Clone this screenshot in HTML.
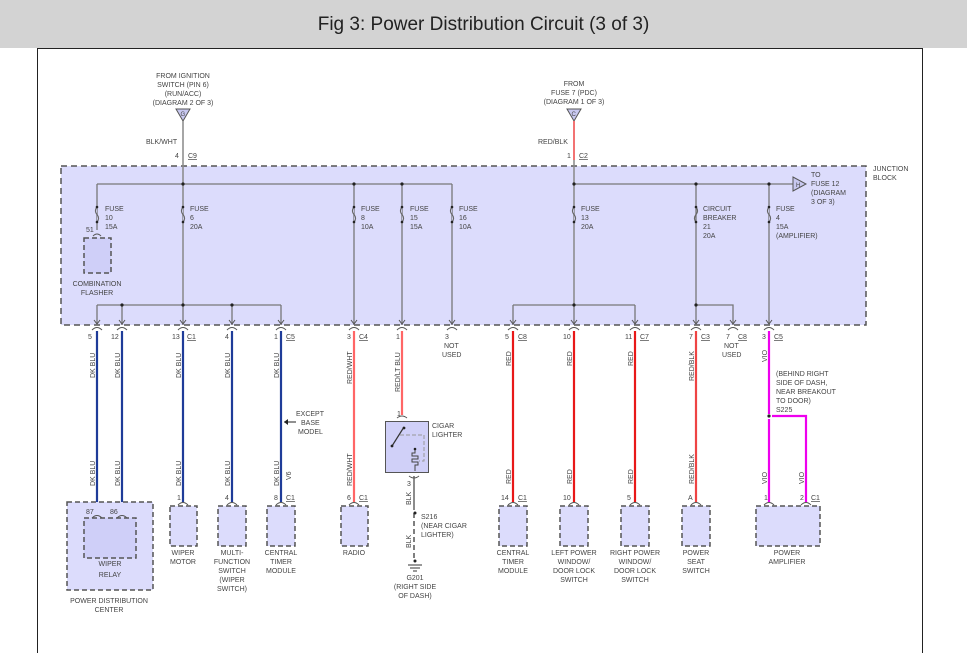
<!DOCTYPE html>
<html><head><meta charset="utf-8"><style>
html,body{margin:0;padding:0;background:#fff;width:967px;height:653px;overflow:hidden}
.hdr{position:absolute;left:0;top:0;width:967px;height:48px;background:#d3d3d3;text-align:center;font:19px "Liberation Sans",sans-serif;line-height:50px;color:#222}
svg{position:absolute;left:0;top:0}
text{font-family:"Liberation Sans",sans-serif;font-size:7px;fill:#444}
.b{fill:#dcdcfc;stroke:#555;stroke-width:1.5;stroke-dasharray:5,3}
</style></head><body>
<div class="hdr">Fig 3: Power Distribution Circuit (3 of 3)</div>
<svg width="967" height="653" viewBox="0 0 967 653">
<rect x="37.5" y="48.5" width="885" height="620" fill="none" stroke="#222" stroke-width="1"/>
<rect x="61" y="166" width="805" height="159" fill="#dcdcfc" stroke="#555" stroke-width="1.5" stroke-dasharray="6,4"/>
<text x="873" y="171">JUNCTION</text><text x="873" y="180">BLOCK</text>
<g text-anchor="middle">
<text x="183" y="78">FROM IGNITION</text><text x="183" y="87">SWITCH (PIN 6)</text><text x="183" y="96">(RUN/ACC)</text><text x="183" y="105">(DIAGRAM 2 OF 3)</text>
<text x="574" y="86">FROM</text><text x="574" y="95">FUSE 7 (PDC)</text><text x="574" y="104">(DIAGRAM 1 OF 3)</text>
</g>
<polygon points="176,109 190,109 183,121" fill="#c8c8f0" stroke="#555"/><text x="180.5" y="116" style="font-size:6px">G</text>
<polygon points="567,109 581,109 574,121" fill="#c8c8f0" stroke="#555"/><text x="571.5" y="116" style="font-size:6px">C</text>
<line x1="183" y1="121" x2="183" y2="305" stroke="#888" stroke-width="1.5"/>
<line x1="574" y1="121" x2="574" y2="160" stroke="#e44" stroke-width="1.5"/>
<line x1="574" y1="160" x2="574" y2="305" stroke="#888" stroke-width="1.5"/>
<text x="146" y="144">BLK/WHT</text><text x="538" y="144">RED/BLK</text>
<text x="175" y="158">4</text><text x="188" y="158" text-decoration="underline">C9</text>
<text x="567" y="158">1</text><text x="579" y="158" text-decoration="underline">C2</text>
<g stroke="#777" stroke-width="1.3" fill="none">
<path d="M97 184H452M97 184V230M354 184V325M402 184V325M452 184V325"/>
<path d="M574 184H793M696 184V305M769 184V325"/>
<path d="M97 305H281M97 305V325M122 305V325M183 305V325M232 305V325M281 305V325"/>
<path d="M513 305H635M513 305V325M574 305V325M635 305V325M696 305V325M696 305H733V325"/>
</g>
<polygon points="793,177 793,191 806,184" fill="#c8c8f0" stroke="#555"/><text x="796" y="187" style="font-size:6px">H</text>
<text x="811" y="177">TO</text><text x="811" y="186">FUSE 12</text><text x="811" y="195">(DIAGRAM</text><text x="811" y="204">3 OF 3)</text>
<g fill="#222"><circle cx="183" cy="184" r="1.6"/><circle cx="354" cy="184" r="1.6"/><circle cx="402" cy="184" r="1.6"/><circle cx="574" cy="184" r="1.6"/><circle cx="696" cy="184" r="1.6"/><circle cx="769" cy="184" r="1.6"/>
<circle cx="122" cy="305" r="1.6"/><circle cx="183" cy="305" r="1.6"/><circle cx="232" cy="305" r="1.6"/><circle cx="574" cy="305" r="1.6"/><circle cx="696" cy="305" r="1.6"/>
</g>
<g fill="#dcdcfc" stroke="#666" stroke-width="1.2">
<path d="M97 207q-3 4 0 7.5q3 4 0 7.5"/><path d="M183 207q-3 4 0 7.5q3 4 0 7.5"/><path d="M354 207q-3 4 0 7.5q3 4 0 7.5"/><path d="M402 207q-3 4 0 7.5q3 4 0 7.5"/><path d="M452 207q-3 4 0 7.5q3 4 0 7.5"/><path d="M574 207q-3 4 0 7.5q3 4 0 7.5"/><path d="M696 207q3 4 0 7.5q-3 4 0 7.5" fill="none"/><path d="M769 207q-3 4 0 7.5q3 4 0 7.5"/>
</g>
<g fill="#222"><circle cx="97" cy="207" r="1.3"/><circle cx="97" cy="222" r="1.3"/><circle cx="183" cy="207" r="1.3"/><circle cx="183" cy="222" r="1.3"/><circle cx="354" cy="207" r="1.3"/><circle cx="354" cy="222" r="1.3"/><circle cx="402" cy="207" r="1.3"/><circle cx="402" cy="222" r="1.3"/><circle cx="452" cy="207" r="1.3"/><circle cx="452" cy="222" r="1.3"/><circle cx="574" cy="207" r="1.3"/><circle cx="574" cy="222" r="1.3"/><circle cx="696" cy="207" r="1.3"/><circle cx="696" cy="222" r="1.3"/><circle cx="769" cy="207" r="1.3"/><circle cx="769" cy="222" r="1.3"/></g>
<text x="105" y="211">FUSE</text><text x="105" y="220">10</text><text x="105" y="229">15A</text>
<text x="190" y="211">FUSE</text><text x="190" y="220">6</text><text x="190" y="229">20A</text>
<text x="361" y="211">FUSE</text><text x="361" y="220">8</text><text x="361" y="229">10A</text>
<text x="410" y="211">FUSE</text><text x="410" y="220">15</text><text x="410" y="229">15A</text>
<text x="459" y="211">FUSE</text><text x="459" y="220">16</text><text x="459" y="229">10A</text>
<text x="581" y="211">FUSE</text><text x="581" y="220">13</text><text x="581" y="229">20A</text>
<text x="703" y="211">CIRCUIT</text><text x="703" y="220">BREAKER</text><text x="703" y="229">21</text><text x="703" y="238">20A</text>
<text x="776" y="211">FUSE</text><text x="776" y="220">4</text><text x="776" y="229">15A</text><text x="776" y="238">(AMPLIFIER)</text>
<text x="86" y="232">51</text>
<path d="M93 236q4-4 8 0" fill="none" stroke="#555"/>
<rect x="84" y="238" width="27" height="35" fill="#cfcff8" stroke="#555" stroke-width="1.5" stroke-dasharray="5,3"/>
<text x="97" y="286" text-anchor="middle">COMBINATION</text><text x="97" y="295" text-anchor="middle">FLASHER</text>
<g fill="none" stroke="#555" stroke-width="1">
<path d="M92 330q5-5 10 0M117 330q5-5 10 0M178 330q5-5 10 0M227 330q5-5 10 0M276 330q5-5 10 0M349 330q5-5 10 0M397 330q5-5 10 0M447 330q5-5 10 0M508 330q5-5 10 0M569 330q5-5 10 0M630 330q5-5 10 0M691 330q5-5 10 0M728 330q5-5 10 0M764 330q5-5 10 0"/>
<path d="M94 320l3 4 3-4M119 320l3 4 3-4M180 320l3 4 3-4M229 320l3 4 3-4M278 320l3 4 3-4M351 320l3 4 3-4M399 320l3 4 3-4M449 320l3 4 3-4M510 320l3 4 3-4M571 320l3 4 3-4M632 320l3 4 3-4M693 320l3 4 3-4M730 320l3 4 3-4M766 320l3 4 3-4"/>
</g>
<text x="88" y="339">5</text><text x="111" y="339">12</text><text x="172" y="339">13</text><text x="187" y="339" text-decoration="underline">C1</text><text x="225" y="339">4</text><text x="274" y="339">1</text><text x="286" y="339" text-decoration="underline">C5</text>
<text x="347" y="339">3</text><text x="359" y="339" text-decoration="underline">C4</text><text x="396" y="339">1</text>
<text x="445" y="339">3</text><text x="444" y="348">NOT</text><text x="442" y="357">USED</text>
<text x="505" y="339">5</text><text x="518" y="339" text-decoration="underline">C8</text><text x="563" y="339">10</text><text x="625" y="339">11</text><text x="640" y="339" text-decoration="underline">C7</text>
<text x="689" y="339">7</text><text x="701" y="339" text-decoration="underline">C3</text><text x="726" y="339">7</text><text x="738" y="339" text-decoration="underline">C8</text>
<text x="724" y="348">NOT</text><text x="722" y="357">USED</text>
<text x="762" y="339">3</text><text x="774" y="339" text-decoration="underline">C5</text>
<g stroke-width="2.2" fill="none">
<path d="M97 331V518M122 331V518M183 331V502M232 331V502M281 331V502" stroke="#1f3c99"/>
<path d="M354 331V502M402 331V415" stroke="#f66"/>
<path d="M513 331V502M574 331V502M635 331V502" stroke="#e81818"/>
<path d="M696 331V502" stroke="#e44"/>
<path d="M769 331V414M769 419V502M772 416H806V502" stroke="#e0e"/>
</g>
<circle cx="769" cy="416" r="1.6" fill="#222"/>
<path d="M414 476V510" stroke="#666" stroke-width="1.5"/>
<path d="M414 513V560" stroke="#555" stroke-width="1.5" stroke-dasharray="5,3"/>
<circle cx="415" cy="513" r="1.5" fill="#222"/>
<g transform="translate(95,378) rotate(-90)"><text>DK BLU</text></g><g transform="translate(120,378) rotate(-90)"><text>DK BLU</text></g>
<g transform="translate(181,378) rotate(-90)"><text>DK BLU</text></g><g transform="translate(230,378) rotate(-90)"><text>DK BLU</text></g><g transform="translate(279,378) rotate(-90)"><text>DK BLU</text></g>
<g transform="translate(95,486) rotate(-90)"><text>DK BLU</text></g><g transform="translate(120,486) rotate(-90)"><text>DK BLU</text></g>
<g transform="translate(181,486) rotate(-90)"><text>DK BLU</text></g><g transform="translate(230,486) rotate(-90)"><text>DK BLU</text></g><g transform="translate(279,486) rotate(-90)"><text>DK BLU</text></g>
<g transform="translate(291,480) rotate(-90)"><text>V6</text></g>
<g transform="translate(352,384) rotate(-90)"><text>RED/WHT</text></g><g transform="translate(352,486) rotate(-90)"><text>RED/WHT</text></g>
<g transform="translate(400,392) rotate(-90)"><text>RED/LT BLU</text></g>
<g transform="translate(411,505) rotate(-90)"><text>BLK</text></g><g transform="translate(411,548) rotate(-90)"><text>BLK</text></g>
<g transform="translate(511,366) rotate(-90)"><text>RED</text></g><g transform="translate(572,366) rotate(-90)"><text>RED</text></g><g transform="translate(633,366) rotate(-90)"><text>RED</text></g>
<g transform="translate(511,484) rotate(-90)"><text>RED</text></g><g transform="translate(572,484) rotate(-90)"><text>RED</text></g><g transform="translate(633,484) rotate(-90)"><text>RED</text></g>
<g transform="translate(694,381) rotate(-90)"><text>RED/BLK</text></g><g transform="translate(694,484) rotate(-90)"><text>RED/BLK</text></g>
<g transform="translate(767,362) rotate(-90)"><text>VIO</text></g><g transform="translate(767,484) rotate(-90)"><text>VIO</text></g><g transform="translate(804,484) rotate(-90)"><text>VIO</text></g>
<text x="296" y="416">EXCEPT</text><text x="301" y="425">BASE</text><text x="298" y="434">MODEL</text>
<path d="M296 422H284" stroke="#222"/><path d="M288 419l-4 3 4 3" fill="#222"/>
<text x="776" y="376">(BEHIND RIGHT</text><text x="776" y="385">SIDE OF DASH,</text><text x="776" y="394">NEAR BREAKOUT</text><text x="776" y="403">TO DOOR)</text><text x="776" y="412">S225</text>
<text x="397" y="416">1</text>
<rect x="385.5" y="421.5" width="43" height="51" fill="#d0d0f8" stroke="#555"/>
<path d="M397 418q5-4 10 0" fill="none" stroke="#555"/>
<path d="M392 446L404 427" stroke="#333" stroke-width="1.2"/><circle cx="392" cy="446" r="1.4" fill="#222"/><circle cx="404" cy="428" r="1.4" fill="#222"/>
<path d="M400 435H424V461H419" fill="none" stroke="#999" stroke-dasharray="4,2"/>
<path d="M415 449v4h-3v3h6v3h-6v3h6v3h-3v6" fill="none" stroke="#444"/><circle cx="415" cy="449" r="1.3" fill="#222"/>
<text x="432" y="428">CIGAR</text><text x="432" y="437">LIGHTER</text>
<text x="407" y="486">3</text>
<path d="M409 476q5 4 10 0" fill="none" stroke="#555"/>
<text x="421" y="519">S216</text><text x="421" y="528">(NEAR CIGAR</text><text x="421" y="537">LIGHTER)</text>
<circle cx="415" cy="561" r="1.5" fill="#222"/>
<path d="M408 565h14M410 568h10M413 571h4" stroke="#333"/>
<g text-anchor="middle"><text x="415" y="580">G201</text><text x="415" y="589">(RIGHT SIDE</text><text x="415" y="598">OF DASH)</text></g>
<rect x="67" y="502" width="86" height="88" class="b"/>
<rect x="84" y="518" width="52" height="40" class="b" style="fill:#cfcff8"/>
<text x="86" y="514">87</text><text x="110" y="514">86</text>
<path d="M92 518q5-5 10 0M117 518q5-5 10 0" fill="none" stroke="#555"/>
<g text-anchor="middle">
<text x="110" y="566">WIPER</text><text x="110" y="577">RELAY</text>
<text x="109" y="603">POWER DISTRIBUTION</text><text x="109" y="612">CENTER</text>
</g>
<g class="b">
<rect x="170" y="506" width="27" height="40"/><rect x="218" y="506" width="28" height="40"/><rect x="267" y="506" width="28" height="40"/><rect x="341" y="506" width="27" height="40"/>
<rect x="499" y="506" width="28" height="40"/><rect x="560" y="506" width="28" height="40"/><rect x="621" y="506" width="28" height="40"/><rect x="682" y="506" width="28" height="40"/><rect x="756" y="506" width="64" height="40"/>
</g>
<path d="M178 505q5-5 10 0M227 505q5-5 10 0M276 505q5-5 10 0M349 505q5-5 10 0M508 505q5-5 10 0M569 505q5-5 10 0M630 505q5-5 10 0M691 505q5-5 10 0M764 505q5-5 10 0M801 505q5-5 10 0" fill="none" stroke="#555"/>
<text x="177" y="500">1</text><text x="225" y="500">4</text><text x="274" y="500">8</text><text x="286" y="500" text-decoration="underline">C1</text>
<text x="347" y="500">6</text><text x="359" y="500" text-decoration="underline">C1</text>
<text x="501" y="500">14</text><text x="518" y="500" text-decoration="underline">C1</text><text x="563" y="500">10</text><text x="627" y="500">5</text><text x="688" y="500">A</text>
<text x="764" y="500">1</text><text x="800" y="500">2</text><text x="811" y="500" text-decoration="underline">C1</text>
<g text-anchor="middle">
<text x="183" y="555">WIPER</text><text x="183" y="564">MOTOR</text>
<text x="232" y="555">MULTI-</text><text x="232" y="564">FUNCTION</text><text x="232" y="573">SWITCH</text><text x="232" y="582">(WIPER</text><text x="232" y="591">SWITCH)</text>
<text x="281" y="555">CENTRAL</text><text x="281" y="564">TIMER</text><text x="281" y="573">MODULE</text>
<text x="354" y="555">RADIO</text>
<text x="513" y="555">CENTRAL</text><text x="513" y="564">TIMER</text><text x="513" y="573">MODULE</text>
<text x="574" y="555">LEFT POWER</text><text x="574" y="564">WINDOW/</text><text x="574" y="573">DOOR LOCK</text><text x="574" y="582">SWITCH</text>
<text x="635" y="555">RIGHT POWER</text><text x="635" y="564">WINDOW/</text><text x="635" y="573">DOOR LOCK</text><text x="635" y="582">SWITCH</text>
<text x="696" y="555">POWER</text><text x="696" y="564">SEAT</text><text x="696" y="573">SWITCH</text>
<text x="787" y="555">POWER</text><text x="787" y="564">AMPLIFIER</text>
</g>
</svg>
</body></html>
